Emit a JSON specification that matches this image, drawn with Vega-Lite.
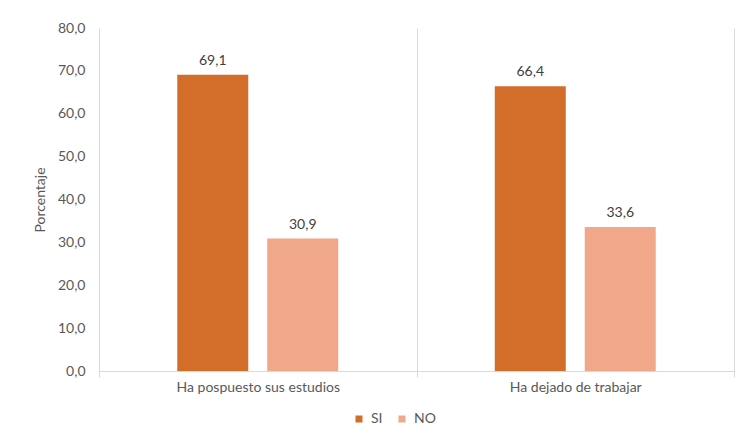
{
  "$schema": "https://vega.github.io/schema/vega-lite/v6.json",
  "width": 635,
  "height": 343,
  "autosize": {"type": "none"},
  "padding": {"left": 99, "top": 28, "right": 11, "bottom": 64},
  "config": {
    "locale": {"number": {"decimal": ",", "thousands": ".", "grouping": [3], "currency": ["", " €"]}},
    "view": {"stroke": null},
    "font": "Lato"
  },
  "data": {
    "values": [
      {"categoria": "Ha pospuesto sus estudios", "respuesta": "SI", "valor": 69.1},
      {"categoria": "Ha pospuesto sus estudios", "respuesta": "NO", "valor": 30.9},
      {"categoria": "Ha dejado de trabajar", "respuesta": "SI", "valor": 66.4},
      {"categoria": "Ha dejado de trabajar", "respuesta": "NO", "valor": 33.6}
    ]
  },
  "encoding": {
    "x": {
      "field": "categoria", "type": "nominal", "sort": null,
      "scale": {"paddingInner": 0, "paddingOuter": 0},
      "axis": {
        "title": null, "labelAngle": 0, "grid": true, "gridColor": "#d9d9d9",
        "tickBand": "extent", "ticks": true, "tickColor": "#d9d9d9", "tickSize": 6,
        "domainColor": "#d9d9d9", "labelPadding": 3, "labelFontSize": 14, "labelColor": "#595959"
      }
    },
    "xOffset": {"field": "respuesta", "sort": ["SI", "NO"], "scale": {"paddingInner": 0.211, "paddingOuter": 0.87}},
    "y": {
      "field": "valor", "type": "quantitative",
      "scale": {"domain": [0, 80]},
      "axis": {
        "values": [0, 10, 20, 30, 40, 50, 60, 70, 80], "format": ".1f",
        "grid": false, "ticks": false, "domain": false,
        "labelPadding": 14, "labelFontSize": 14, "labelColor": "#595959",
        "title": "Porcentaje", "titleFontSize": 14, "titleFontWeight": "normal",
        "titleColor": "#595959", "titlePadding": 10
      }
    }
  },
  "layer": [
    {
      "mark": {"type": "bar"},
      "encoding": {
        "color": {
          "field": "respuesta", "type": "nominal",
          "scale": {"domain": ["SI", "NO"], "range": ["#d26d2a", "#f1a88a"]},
          "legend": {
            "title": null, "orient": "none", "direction": "horizontal",
            "legendX": 253, "legendY": 384, "padding": 0,
            "symbolType": "square", "symbolSize": 49, "symbolStrokeWidth": 0,
            "labelFontSize": 14, "labelColor": "#595959", "columnPadding": 12, "labelOffset": 5
          }
        }
      }
    },
    {
      "mark": {"type": "text", "baseline": "bottom", "dy": -7, "fontSize": 14, "color": "#404040"},
      "encoding": {"text": {"field": "valor", "type": "quantitative", "format": ".1f"}}
    }
  ]
}
